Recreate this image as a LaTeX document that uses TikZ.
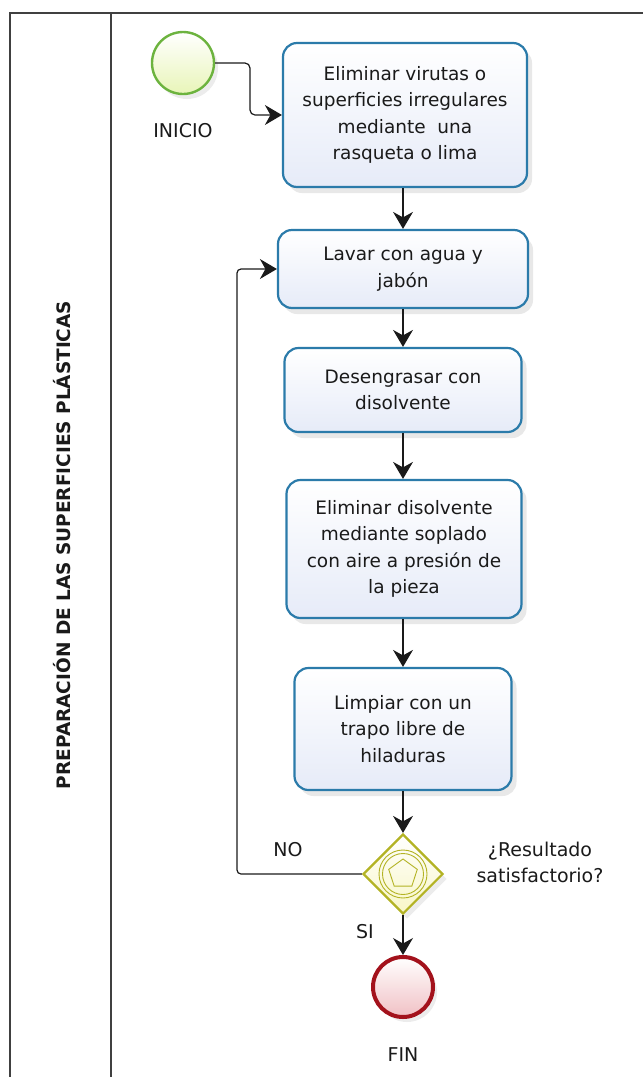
\documentclass[tikz,border=0pt]{standalone}
\usepackage{fontspec}
\setmainfont{DejaVu Sans}
\usetikzlibrary{arrows.meta,shapes.geometric,shadows}
\definecolor{laneline}{HTML}{404040}
\definecolor{taskline}{HTML}{2B7BAA}
\definecolor{taskfill}{HTML}{E6EBF8}
\definecolor{startline}{HTML}{6CB33E}
\definecolor{startfill}{HTML}{E8F5B8}
\definecolor{endline}{HTML}{A3121C}
\definecolor{endfill}{HTML}{F0C0C4}
\definecolor{gateline}{HTML}{B3B324}
\definecolor{gatefill}{HTML}{F8F6C6}
\definecolor{ink}{HTML}{1A1A1A}
\tikzset{
  lane/.style={draw=laneline, line width=1.6pt},
  lanelab/.style={text=ink, font=\fontsize{18.5}{20}\selectfont\bfseries},
  task/.style={draw=taskline, line width=2.2pt, rounded corners=14pt,
    top color=white, bottom color=taskfill, align=center, text=ink,
    font=\fontsize{18.5}{26.5}\selectfont, inner sep=2pt,
    drop shadow={opacity=0.18, shadow xshift=5pt, shadow yshift=-6pt}},
  startev/.style={circle, draw=startline, line width=2.4pt, minimum size=62pt,
    top color=white, bottom color=startfill,
    drop shadow={opacity=0.15, shadow xshift=4pt, shadow yshift=-5pt}},
  endev/.style={circle, draw=endline, line width=4pt, minimum size=60pt,
    top color=white, bottom color=endfill,
    drop shadow={opacity=0.15, shadow xshift=4pt, shadow yshift=-5pt}},
  gate/.style={diamond, aspect=1, draw=gateline, line width=2.2pt, minimum size=80pt,
    inner sep=0pt, top color=white, bottom color=gatefill,
    drop shadow={opacity=0.15, shadow xshift=4pt, shadow yshift=-5pt}},
  gatesym/.style={draw=gateline, line width=0.9pt},
  flow/.style={draw=ink, line width=1.2pt, -{Stealth[length=17pt, width=20pt]}},
  lab/.style={text=ink, font=\fontsize{19}{26}\selectfont, align=center},
}
\begin{document}
\begin{tikzpicture}[x=1pt, y=-1pt]
  \useasboundingbox (0,0) rectangle (643,1077);
  % lane
  \draw[lane] (10,1077) -- (10,13) -- (643,13);
  \draw[lane] (111,13) -- (111,1077);
  \node[lanelab, rotate=90] (lanetitle) at (62,545) {PREPARACIÓN DE LAS SUPERFICIES PLÁSTICAS};
  % events and tasks
  \node[startev] (inicio) at (183,63) {};
  \node[lab] (iniciolab) at (183,131) {INICIO};
  \node[task, minimum width=244pt, minimum height=144pt] (virutas) at (405,115)
    {Eliminar virutas o\\superficies irregulares\\mediante\ \ una\\rasqueta o lima};
  \node[task, minimum width=250pt, minimum height=78pt] (lavar) at (403,269)
    {Lavar con agua y\\jabón};
  \node[task, minimum width=237pt, minimum height=84pt] (desengrasar) at (403,390)
    {Desengrasar con\\disolvente};
  \node[task, minimum width=235pt, minimum height=138pt] (soplado) at (404,549)
    {Eliminar disolvente\\mediante soplado\\con aire a presión de\\la pieza};
  \node[task, minimum width=217pt, minimum height=122pt] (trapo) at (403,729)
    {Limpiar con un\\trapo libre de\\hiladuras};
  \node[gate] (resultado) at (403,874) {};
  \draw[gatesym] (resultado.center) circle (24) (resultado.center) circle (20.5);
  \node[regular polygon, regular polygon sides=5, minimum size=30pt, inner sep=0pt,
    gatesym] (pentagono) at (resultado.center) {};
  \node[lab] (resultadolab) at (540,862) {¿Resultado\\satisfactorio?};
  \node[endev] (fin) at (403,987) {};
  \node[lab] (finlab) at (403,1055) {FIN};
  % flows
  \draw[flow, rounded corners=5pt] (inicio.east) -- (250,63) |- (virutas.west);
  \draw[flow] (virutas.south -| lavar.north) -- (lavar.north);
  \draw[flow] (lavar) -- (desengrasar);
  \draw[flow] (desengrasar) -- (soplado.north -| desengrasar.south);
  \draw[flow] (soplado.south -| trapo.north) -- (trapo);
  \draw[flow] (trapo) -- (resultado);
  \draw[flow] (resultado) -- (fin);
  \draw[flow, rounded corners=4pt] (resultado.west) -- (237,874) -- (237,269) -- (lavar.west);
  \node[lab] (nolab) at (288,850) {NO};
  \node[lab] (silab) at (365,932) {SI};
\end{tikzpicture}
\end{document}
